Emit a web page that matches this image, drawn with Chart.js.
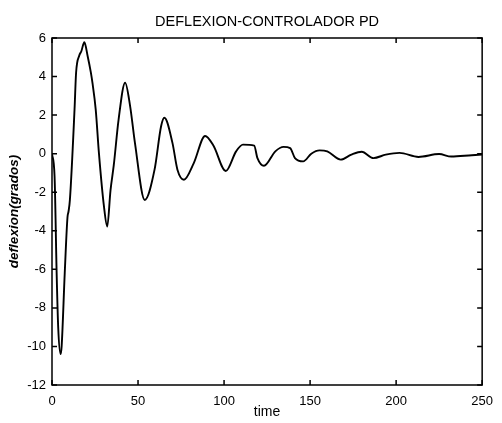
<!DOCTYPE html>
<html>
<head>
<meta charset="utf-8">
<title>Deflexion - controlador PD</title>
<script src="https://cdn.jsdelivr.net/npm/chart.js@4.4.1/dist/chart.umd.min.js"></script>
<style>
  html, body { margin: 0; padding: 0; background: #fff; }
  #wrap { width: 502px; height: 423px; }
</style>
</head>
<body>
<div id="wrap"><canvas id="deflexion"></canvas></div>
<script>
// respuesta del sistema con controlador PD (time, deflexion en grados)
const tiempo = [
  0, 1.5, 2.7, 3.6, 5, 5.6, 7.4, 9.0, 9.6, 10.4, 13.1, 14, 15.9, 17, 18.8,
  20.7, 22.6, 23.5, 25.4, 27.3, 30.2, 32.1, 34, 35.9, 38.7, 42.5, 45.4, 48.2,
  53.9, 59.6, 63.4, 65.3, 70, 72.9, 76.7, 82.4, 89, 93.8, 101, 107, 111,
  117.5, 119.4, 123.2, 129.8, 134.6, 138.4, 141.2, 146, 150.7, 155.5, 160,
  167.8, 174, 180, 186.8, 194, 202, 213, 225, 232, 244, 250
];
const deflexion = [
  0, -1.2, -6.2, -9, -10.4, -10, -6.2, -3.3, -3.0, -2.4, 2.3, 4.2, 5.1, 5.3, 5.78,
  5.07, 4.2, 3.68, 2.3, 0, -2.74, -3.78, -1.9, -0.6, 1.77, 3.68, 2.47, 0.56,
  -2.4, -0.83, 1.42, 1.86, 0.56, -0.83, -1.35, -0.49, 0.92, 0.42, -0.9, 0.12, 0.47,
  0.42, -0.23, -0.63, 0.12, 0.35, 0.29, -0.23, -0.4, 0, 0.17, 0.12,
  -0.31, -0.05, 0.1, -0.23, -0.05, 0.04, -0.17, -0.02, -0.15, -0.08, -0.05
];
const xTicks = [0, 50, 100, 150, 200, 250];
const yTicks = [-12, -10, -8, -6, -4, -2, 0, 2, 4, 6];

const fuente = "'Liberation Sans', Arial, Helvetica, sans-serif";

// caja cerrada con marcas hacia adentro en los cuatro lados
const marco = {
  id: 'marco',
  afterDatasetsDraw(chart) {
    const { ctx, chartArea: a, scales: { x, y } } = chart;
    const largo = 5;
    ctx.save();
    ctx.strokeStyle = '#000';
    ctx.lineWidth = 1.5;
    ctx.strokeRect(a.left, a.top, a.right - a.left, a.bottom - a.top);
    ctx.beginPath();
    x.ticks.forEach(t => {
      const px = x.getPixelForValue(t.value);
      ctx.moveTo(px, a.bottom); ctx.lineTo(px, a.bottom - largo);
      ctx.moveTo(px, a.top); ctx.lineTo(px, a.top + largo);
    });
    y.ticks.forEach(t => {
      const py = y.getPixelForValue(t.value);
      ctx.moveTo(a.left, py); ctx.lineTo(a.left + largo, py);
      ctx.moveTo(a.right, py); ctx.lineTo(a.right - largo, py);
    });
    ctx.stroke();
    ctx.restore();
  }
};

new Chart(document.getElementById('deflexion'), {
  type: 'line',
  data: {
    datasets: [{
      data: tiempo.map((t, i) => ({ x: t, y: deflexion[i] })),
      borderColor: '#000',
      borderWidth: 1.9,
      pointRadius: 0,
      cubicInterpolationMode: 'monotone',
      fill: false
    }]
  },
  options: {
    responsive: true,
    maintainAspectRatio: false,
    animation: false,
    layout: { autoPadding: false, padding: { left: 0, right: 11, top: 0, bottom: 0 } },
    plugins: {
      legend: { display: false },
      tooltip: { enabled: false },
      title: {
        display: true,
        fullSize: false,
        text: 'DEFLEXION-CONTROLADOR PD',
        color: '#000',
        font: { family: fuente, size: 14.5, weight: 'normal' },
        padding: { top: 13, bottom: 7.6 }
      }
    },
    scales: {
      x: {
        type: 'linear',
        min: 0,
        max: 250,
        afterBuildTicks: s => { s.ticks = xTicks.map(v => ({ value: v })); },
        afterFit: s => { s.height = 38; },
        grid: { display: false, drawTicks: false },
        border: { display: false },
        ticks: { color: '#000', padding: 9, maxRotation: 0, font: { family: fuente, size: 13 } },
        title: {
          display: true,
          text: 'time',
          color: '#000',
          font: { family: fuente, size: 14 },
          padding: { top: 0, bottom: 2 }
        }
      },
      y: {
        type: 'linear',
        min: -12,
        max: 6,
        afterBuildTicks: s => { s.ticks = yTicks.map(v => ({ value: v })); },
        afterFit: s => { s.width = 52; },
        grid: { display: false, drawTicks: false },
        border: { display: false },
        ticks: { color: '#000', padding: 6, font: { family: fuente, size: 13 } },
        title: {
          display: true,
          text: 'deflexion(grados)',
          color: '#000',
          font: { family: fuente, size: 13.5, style: 'italic', weight: 'bold' },
          padding: { top: 6, bottom: 0 }
        }
      }
    }
  },
  plugins: [marco]
});
</script>
</body>
</html>
